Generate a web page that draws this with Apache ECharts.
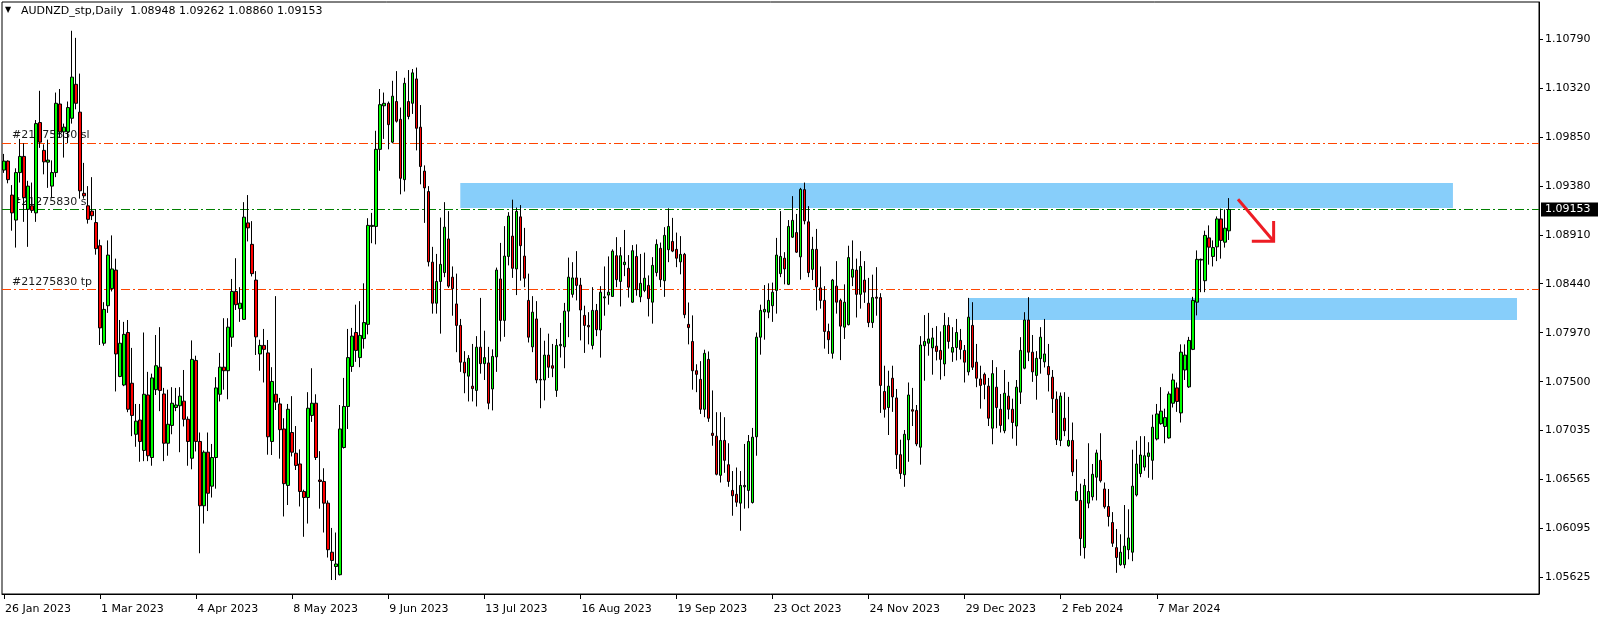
<!DOCTYPE html>
<html><head><meta charset="utf-8">
<script src="https://cdn.jsdelivr.net/npm/echarts@6/dist/echarts.min.js"></script>
<style>html,body{margin:0;padding:0;background:#fff;}#c{width:1604px;height:621px;}</style>
</head><body><div id="c"></div>
<script>
// ---- data (AUDNZD daily, bar 0 = 26 Jan 2023) ----
const openP = [
1.09531,1.09617,1.09291,1.09051,1.09507,1.09662,1.09154,1.09188,1.09120,1.09987,
1.09720,1.09607,1.09377,1.09507,1.10165,1.09898,1.09898,1.10028,1.10354,1.10087,
1.09308,1.09188,1.09137,1.09027,1.08805,1.07869,1.08229,1.08393,1.08571,1.07550,
1.07468,1.07972,1.07485,1.06995,1.07132,1.06840,1.07372,1.06772,1.07423,1.07639,
1.07382,1.06909,1.07080,1.07252,1.07269,1.07313,1.07139,1.06765,1.07704,1.06926,
1.06309,1.06823,1.06497,1.06772,1.07379,1.07639,1.07605,1.07927,1.08366,1.08201,
1.08098,1.09024,1.08818,1.08475,1.07766,1.07848,1.07776,1.06926,1.07379,1.07286,
1.07046,1.06504,1.07012,1.06813,1.06710,1.06446,1.06388,1.07176,1.07293,1.06556,
1.06542,1.06334,1.05863,1.05726,1.05647,1.06868,1.07262,1.07646,1.07972,1.07731,
1.07913,1.08050,1.08990,1.08990,1.09730,1.10148,1.10172,1.09799,1.10189,1.10018,
1.09439,1.10189,1.10172,1.10406,1.09943,1.09521,1.09325,1.08647,1.08253,1.08462,
1.08547,1.08870,1.08503,1.08246,1.08040,1.07687,1.07553,1.07457,1.07416,1.07831,
1.07673,1.07680,1.07430,1.07738,1.08486,1.08088,1.08702,1.08897,1.08582,1.09082,
1.08705,1.08280,1.07834,1.08102,1.07522,1.07516,1.07755,1.07653,1.07416,1.07845,
1.07834,1.08177,1.08338,1.08496,1.08427,1.08136,1.08040,1.07848,1.08184,1.07996,
1.08304,1.08331,1.08318,1.08709,1.08462,1.08623,1.08588,1.08263,1.08702,1.08314,
1.08376,1.08424,1.08263,1.08547,1.08780,1.08469,1.08767,1.08846,1.08770,1.08650,
1.08722,1.08050,1.07886,1.07605,1.07522,1.07235,1.07714,1.07005,1.06977,1.06601,
1.06936,1.06703,1.06456,1.06419,1.06334,1.06491,1.06456,1.06340,1.06971,1.07927,
1.08170,1.08167,1.08229,1.08376,1.08537,1.08685,1.08434,1.08887,1.08931,1.08698,
1.09343,1.09034,1.08578,1.08770,1.08400,1.08280,1.07982,1.07772,1.08417,1.08280,
1.08023,1.08047,1.08503,1.08571,1.08338,1.08475,1.08253,1.08067,1.08311,1.08307,
1.07406,1.07252,1.07533,1.07344,1.06799,1.06607,1.06943,1.07231,1.07224,1.06871,
1.07845,1.07869,1.07824,1.07841,1.07800,1.07670,1.08040,1.07783,1.07828,1.07896,
1.07800,1.07594,1.08040,1.07687,1.07526,1.07570,1.07457,1.07053,1.07447,1.07235,
1.07029,1.07361,1.07235,1.07074,1.07399,1.07629,1.08092,1.07783,1.07560,1.07721,
1.07690,1.07646,1.07543,1.07331,1.06936,1.07149,1.06885,1.06936,1.06360,1.06360,
1.05907,1.06334,1.06395,1.06583,1.06745,1.06470,1.06302,1.06148,1.05907,1.05743,
1.05743,1.05887,1.05863,1.06412,1.06618,1.06680,1.06782,1.06745,1.06950,1.07097,
1.07070,1.06960,1.07293,1.07440,1.07200,1.07612,1.07450,1.07810,1.08263,1.08667,
1.08469,1.08880,1.08702,1.08794,1.09062,1.08839,1.08948];
const highP = [
1.09686,1.09624,1.09387,1.09548,1.09830,1.09788,1.09428,1.09411,1.10011,1.10292,
1.09778,1.09823,1.09624,1.10275,1.10309,1.09977,1.10189,1.10868,1.10800,1.10457,
1.09600,1.09377,1.09463,1.09154,1.08863,1.08263,1.08856,1.08904,1.08681,1.08092,
1.08074,1.08092,1.07824,1.07286,1.07286,1.07972,1.07594,1.07577,1.07948,1.08023,
1.07440,1.07423,1.07447,1.07440,1.07447,1.07612,1.07166,1.07896,1.07749,1.07012,
1.06840,1.07012,1.06902,1.07543,1.07776,1.08109,1.08109,1.08486,1.08685,1.08407,
1.09223,1.09291,1.09041,1.08561,1.07903,1.08006,1.07900,1.07639,1.08321,1.07344,
1.07149,1.07286,1.07361,1.07074,1.06850,1.06463,1.07399,1.07629,1.07379,1.06833,
1.06669,1.06360,1.06096,1.06052,1.07276,1.07536,1.08006,1.08016,1.08239,1.08273,
1.08444,1.09069,1.09120,1.09908,1.10309,1.10275,1.10189,1.10388,1.10481,1.10131,
1.10417,1.10491,1.10501,1.10515,1.10155,1.09576,1.09377,1.08794,1.08726,1.09075,
1.09223,1.09137,1.08606,1.08537,1.08102,1.07793,1.07755,1.07862,1.07937,1.08304,
1.07989,1.07834,1.07810,1.08595,1.08832,1.08993,1.09127,1.09247,1.09171,1.09195,
1.08976,1.08537,1.08321,1.08273,1.08016,1.07893,1.07961,1.07862,1.07910,1.08064,
1.08256,1.08691,1.08647,1.08753,1.08496,1.08229,1.08167,1.08407,1.08246,1.08417,
1.08606,1.08702,1.08770,1.08887,1.08791,1.08956,1.08715,1.08811,1.08818,1.08726,
1.08739,1.08520,1.08695,1.08866,1.08835,1.08983,1.09164,1.09072,1.08931,1.08897,
1.08736,1.08260,1.08136,1.07667,1.07697,1.07807,1.07790,1.07416,1.07207,1.07207,
1.07159,1.06909,1.06642,1.06676,1.06642,1.06902,1.06988,1.07056,1.07972,1.08239,
1.08427,1.08444,1.08451,1.08880,1.09137,1.08743,1.09051,1.09281,1.09110,1.09360,
1.09411,1.09185,1.08890,1.08966,1.08606,1.08417,1.08057,1.08486,1.08657,1.08297,
1.08434,1.08805,1.08856,1.08681,1.08753,1.08657,1.08496,1.08527,1.08599,1.08349,
1.07653,1.07605,1.07653,1.07430,1.06943,1.07036,1.07492,1.07440,1.07276,1.07937,
1.08139,1.08160,1.08016,1.08033,1.07982,1.08160,1.08119,1.08023,1.08102,1.08006,
1.07852,1.08304,1.08263,1.07862,1.07653,1.07587,1.07536,1.07707,1.07639,1.07382,
1.07612,1.07498,1.07337,1.07516,1.07927,1.08167,1.08311,1.07948,1.07793,1.08023,
1.08102,1.07862,1.07612,1.07406,1.07396,1.07399,1.07354,1.07108,1.06755,1.06521,
1.06566,1.06909,1.06710,1.06847,1.07005,1.06532,1.06470,1.06248,1.06086,1.06035,
1.06316,1.06275,1.06847,1.06933,1.06977,1.06977,1.06919,1.07183,1.07286,1.07447,
1.07241,1.07406,1.07577,1.07492,1.07858,1.07858,1.07930,1.08314,1.08760,1.08681,
1.08949,1.09000,1.08856,1.09086,1.09161,1.09154,1.09262];
const lowP = [
1.09504,1.09404,1.08949,1.08787,1.09411,1.09034,1.08794,1.09120,1.09034,1.09744,
1.09490,1.09360,1.09264,1.09463,1.09840,1.09651,1.09788,1.09977,1.10114,1.09257,
1.09257,1.09017,1.09051,1.08719,1.07852,1.07845,1.08160,1.08366,1.07406,1.07543,
1.07457,1.07207,1.06977,1.06875,1.06731,1.06737,1.06737,1.06693,1.07372,1.07217,
1.06737,1.06789,1.06995,1.07217,1.06823,1.07070,1.06693,1.06659,1.06830,1.05853,
1.06138,1.06258,1.06388,1.06473,1.07310,1.07423,1.07331,1.07834,1.08188,1.08074,
1.08092,1.08846,1.08510,1.07756,1.07605,1.07492,1.06799,1.06796,1.07228,1.06761,
1.06206,1.06316,1.06782,1.06652,1.06302,1.06011,1.06138,1.07114,1.06748,1.06281,
1.06052,1.05812,1.05596,1.05596,1.05640,1.06858,1.07046,1.07594,1.07690,1.07639,
1.07817,1.07954,1.08829,1.08818,1.09524,1.09830,1.09730,1.09788,1.09987,1.09298,
1.09325,1.10018,1.10070,1.09720,1.09394,1.09024,1.08606,1.08153,1.08153,1.07961,
1.08503,1.08400,1.08133,1.07783,1.07594,1.07389,1.07310,1.07310,1.07262,1.07577,
1.07516,1.07235,1.07224,1.07594,1.07886,1.07930,1.08616,1.08496,1.08331,1.08469,
1.08407,1.07876,1.07783,1.07485,1.07245,1.07320,1.07536,1.07543,1.07354,1.07731,
1.07629,1.07927,1.08307,1.08280,1.07896,1.07776,1.07858,1.07810,1.07937,1.07731,
1.08133,1.08239,1.08314,1.08407,1.08222,1.08513,1.08307,1.08256,1.08325,1.08263,
1.08359,1.08126,1.08057,1.08510,1.08407,1.08314,1.08647,1.08743,1.08599,1.08530,
1.08109,1.07858,1.07423,1.07399,1.07190,1.07159,1.07114,1.06885,1.06601,1.06532,
1.06625,1.06491,1.06213,1.06299,1.06069,1.06281,1.06285,1.06330,1.06789,1.07759,
1.07903,1.08109,1.08074,1.08153,1.08503,1.08434,1.08427,1.08880,1.08736,1.08479,
1.09010,1.08503,1.08475,1.08184,1.08201,1.07817,1.07766,1.07721,1.08153,1.07707,
1.07910,1.08040,1.08417,1.08116,1.08201,1.08256,1.08023,1.08016,1.08133,1.07200,
1.07155,1.06988,1.07210,1.06662,1.06566,1.06491,1.06731,1.07074,1.06881,1.06703,
1.07509,1.07749,1.07567,1.07704,1.07519,1.07553,1.07817,1.07690,1.07704,1.07714,
1.07492,1.07560,1.07612,1.07447,1.07241,1.07331,1.07074,1.06899,1.07053,1.07012,
1.07005,1.07139,1.06953,1.06885,1.07286,1.07619,1.07697,1.07498,1.07327,1.07577,
1.07636,1.07406,1.07200,1.06892,1.06881,1.06977,1.06875,1.06594,1.06353,1.05829,
1.05802,1.06285,1.06360,1.06360,1.06532,1.06281,1.06110,1.05914,1.05665,1.05733,
1.05709,1.05795,1.05777,1.06398,1.06583,1.06645,1.06577,1.06559,1.06936,1.07087,
1.06909,1.06953,1.07252,1.07210,1.07108,1.07516,1.07440,1.07803,1.08136,1.08359,
1.08359,1.08623,1.08606,1.08657,1.08681,1.08787,1.08860];
const closeP = [
1.09617,1.09439,1.09120,1.09507,1.09662,1.09267,1.09377,1.09144,1.09977,1.09799,
1.09610,1.09627,1.09507,1.10172,1.09898,1.09943,1.10131,1.10423,1.10172,1.09332,
1.09284,1.09058,1.09093,1.08777,1.08016,1.08194,1.08715,1.08582,1.07766,1.07869,
1.07954,1.07235,1.07176,1.07121,1.06926,1.07379,1.06789,1.07536,1.07653,1.07416,
1.06909,1.07091,1.07293,1.07276,1.07361,1.07139,1.06926,1.07714,1.06926,1.06309,
1.06823,1.06429,1.06772,1.07440,1.07639,1.07605,1.08023,1.08366,1.08239,1.08253,
1.09079,1.08976,1.08537,1.07930,1.07848,1.07810,1.06971,1.07502,1.07303,1.07039,
1.06521,1.07235,1.06823,1.06696,1.06446,1.06388,1.07245,1.07293,1.06772,1.06542,
1.06334,1.05887,1.05784,1.05750,1.07046,1.07262,1.07731,1.07937,1.07800,1.07944,
1.08067,1.09000,1.09000,1.09730,1.10159,1.10172,1.09967,1.10240,1.10000,1.09452,
1.10364,1.10045,1.10464,1.09932,1.09565,1.09360,1.08650,1.08253,1.08462,1.08626,
1.08983,1.08417,1.08393,1.08040,1.07687,1.07584,1.07724,1.07433,1.07831,1.07673,
1.07731,1.07293,1.07742,1.08571,1.08088,1.08705,1.09089,1.08588,1.09134,1.08805,
1.08493,1.07927,1.08167,1.07516,1.07516,1.07755,1.07639,1.07629,1.07848,1.07858,
1.08177,1.08503,1.08496,1.08424,1.08188,1.08040,1.08026,1.08184,1.07999,1.08359,
1.08314,1.08359,1.08753,1.08479,1.08709,1.08647,1.08407,1.08757,1.08383,1.08444,
1.08493,1.08297,1.08616,1.08818,1.08479,1.08904,1.08990,1.08753,1.08685,1.08722,
1.08143,1.08019,1.07605,1.07570,1.07235,1.07772,1.07149,1.06984,1.06611,1.06936,
1.06745,1.06542,1.06405,1.06343,1.06504,1.06504,1.06926,1.06967,1.07927,1.08184,
1.08194,1.08280,1.08359,1.08715,1.08702,1.08582,1.08990,1.09048,1.08743,1.09346,
1.09044,1.08547,1.08770,1.08410,1.08280,1.07982,1.07903,1.08475,1.08263,1.08033,
1.08263,1.08691,1.08578,1.08338,1.08606,1.08359,1.08067,1.08307,1.08301,1.07464,
1.07235,1.07457,1.07354,1.06799,1.06618,1.06995,1.07372,1.07217,1.06902,1.07852,
1.07886,1.07910,1.07920,1.07790,1.07714,1.08040,1.07886,1.07828,1.07972,1.07810,
1.07687,1.08119,1.07639,1.07533,1.07464,1.07474,1.07149,1.07577,1.07252,1.07080,
1.07389,1.07235,1.07108,1.07447,1.07800,1.08092,1.07783,1.07594,1.07724,1.07927,
1.07766,1.07567,1.07337,1.06943,1.07361,1.07029,1.06936,1.06635,1.06446,1.05994,
1.06504,1.06446,1.06611,1.06816,1.06549,1.06299,1.06206,1.05949,1.05812,1.05863,
1.05921,1.06000,1.06497,1.06710,1.06796,1.06789,1.06816,1.07063,1.07190,1.07217,
1.07155,1.07382,1.07516,1.07310,1.07783,1.07755,1.07896,1.08280,1.08674,1.08674,
1.08904,1.08791,1.08787,1.09062,1.08856,1.08973,1.09153];

const dateTickLabels = ['26 Jan 2023','1 Mar 2023','4 Apr 2023','8 May 2023','9 Jun 2023','13 Jul 2023',
  '16 Aug 2023','19 Sep 2023','23 Oct 2023','24 Nov 2023','29 Dec 2023','2 Feb 2024','7 Mar 2024'];
const BARS_PER_DATE_TICK = 24;
const priceTickValues = [1.10790,1.10320,1.09850,1.09380,1.08910,1.08440,1.07970,1.07500,1.07035,1.06565,1.06095,1.05625];
const levelPrices = [1.09795, 1.09155, 1.08386];          // sl, entry, tp
const levelColors = ['#ff4500', '#008000', '#ff4500'];
const levelLabels = ['#21275830 sl', '#21275830 s', '#21275830 tp'];
const bidPrice = 1.09153;
const zoneFrom = [114, 241], zoneTo = [362, 378];
const zoneTop = [1.09408, 1.08304], zoneBottom = [1.09168, 1.08092];
// arrow annotation in (bar index, price)
const arrowTail = [308.3, 1.09250], arrowTip = [317.2, 1.08847];
const arrowArmUp = [317.2, 1.09042], arrowArmLeft = [311.75, 1.08847];
const TOTAL_SLOTS = 384;

const titleText = 'AUDNZD_stp,Daily  1.08948 1.09262 1.08860 1.09153';
const FONT = 'DejaVu Sans';

const chart = echarts.init(document.getElementById('c'), null, {renderer: 'canvas', width: 1604, height: 621});
const cats = Array.from({length: TOTAL_SLOTS}, (_, i) => String(i));
const ohlc = openP.map((o, i) => [o, closeP[i], lowP[i], highP[i]]);
const isDateTick = i => i % BARS_PER_DATE_TICK === 0 && i / BARS_PER_DATE_TICK < dateTickLabels.length;
const dash = [9, 3, 2, 3];

chart.setOption({
  animation: false,
  grid: {left: 2, top: 2, width: 1537, height: 592, show: true, borderColor: '#000', borderWidth: 1, backgroundColor: 'transparent'},
  xAxis: {
    type: 'category', data: cats, boundaryGap: true,
    axisLine: {show: true, lineStyle: {color: '#000', width: 1}},
    axisTick: {show: true, alignWithLabel: true, interval: (i) => isDateTick(i), length: 5, lineStyle: {color: '#000'}},
    axisLabel: {interval: (i) => isDateTick(i), formatter: (v, i) => dateTickLabels[i / BARS_PER_DATE_TICK],
      align: 'left', margin: 10, padding: [0, 0, 0, 1], fontFamily: FONT, fontSize: 11, color: '#000'},
    splitLine: {show: false}
  },
  yAxis: {
    type: 'value', position: 'right', min: 1.054619, max: 1.111442,
    axisLine: {show: true, onZero: false, lineStyle: {color: '#000'}},
    axisTick: {show: true, inside: false, length: 4, customValues: priceTickValues, lineStyle: {color: '#000'}},
    axisLabel: {customValues: priceTickValues, formatter: v => v.toFixed(5), margin: 6, fontFamily: FONT, fontSize: 11, color: '#000'},
    splitLine: {show: false}
  },
  series: [
    {
      type: 'custom', z: 1, silent: true,
      data: zoneFrom.map((f, i) => [f, zoneTo[i], zoneTop[i], zoneBottom[i]]),
      encode: {x: [0, 1], y: [2, 3]},
      renderItem: (params, api) => {
        const p1 = api.coord([api.value(0), api.value(2)]);
        const p2 = api.coord([api.value(1), api.value(3)]);
        return {type: 'rect', shape: {x: p1[0], y: p1[1], width: p2[0] - p1[0], height: p2[1] - p1[1]}, style: {fill: '#87cefa'}};
      }
    },
    {
      type: 'custom', z: 2, silent: true,
      data: levelPrices.map((p, i) => [0, p]),
      encode: {x: 0, y: 1},
      renderItem: (params, api) => {
        const cs = params.coordSys;
        const y = Math.round(api.coord([0, api.value(1)])[1]) + 0.5;
        return {type: 'line', shape: {x1: cs.x, y1: y, x2: cs.x + cs.width, y2: y},
          style: {stroke: levelColors[params.dataIndex], lineWidth: 1, lineDash: dash}};
      }
    },
    {
      type: 'candlestick', z: 5, data: ohlc, barWidth: 3, silent: true,
      itemStyle: {color: '#00ff00', color0: '#ff0000', borderColor: '#000', borderColor0: '#000', borderColorDoji: '#000', borderWidth: 1}
    }
  ]
});

const yPix = p => chart.convertToPixel({yAxisIndex: 0}, p);
const x0 = chart.convertToPixel({xAxisIndex: 0}, 0);
const bw = chart.convertToPixel({xAxisIndex: 0}, 1) - x0;
const xPix = idx => x0 + idx * bw;
const pt = a => [xPix(a[0]), yPix(a[1])];

const labelStyle = {fontFamily: FONT, fontSize: 11, fill: '#1a1a1a', verticalAlign: 'middle'};
const graphics = [
  {type: 'text', z: 0, left: 5, top: 6, style: {text: '\u25BC', fontFamily: FONT, fontSize: 8, fill: '#000'}},
  {type: 'text', z: 0, left: 21, top: 6, style: {text: titleText, fontFamily: FONT, fontSize: 11, fill: '#000'}},
  {type: 'polyline', z: 100, shape: {points: [pt(arrowTail), pt(arrowTip)]}, style: {stroke: '#ed1c24', lineWidth: 3, fill: null}},
  {type: 'polyline', z: 100, shape: {points: [pt(arrowArmUp), pt(arrowTip), pt(arrowArmLeft)]}, style: {stroke: '#ed1c24', lineWidth: 3, fill: null, lineJoin: 'miter'}},
  {type: 'rect', z: 100, shape: {x: 1541, y: yPix(bidPrice) - 7, width: 57, height: 14}, style: {fill: '#000'}},
  {type: 'text', z: 101, x: 1545, y: yPix(bidPrice), style: {text: bidPrice.toFixed(5), fontFamily: FONT, fontSize: 11, fill: '#fff', verticalAlign: 'middle'}}
];
levelPrices.forEach((p, i) => {
  graphics.push({type: 'text', z: 0, x: 12, y: yPix(p) - 7, style: Object.assign({text: levelLabels[i]}, labelStyle)});
});
chart.setOption({graphic: graphics});
</script></body></html>
